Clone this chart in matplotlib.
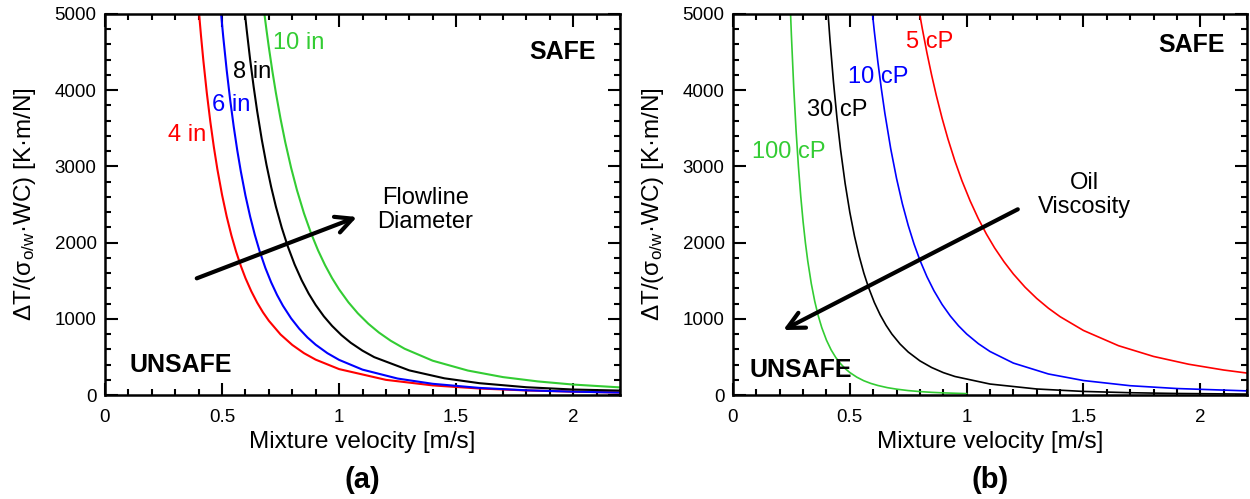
import matplotlib
matplotlib.use("Agg")
import matplotlib.pyplot as plt
from matplotlib.ticker import MultipleLocator, FuncFormatter

plt.rcParams["font.family"] = ["Liberation Sans", "DejaVu Sans"]
plt.rcParams["mathtext.fontset"] = "custom"
plt.rcParams["mathtext.rm"] = "Liberation Sans"
plt.rcParams["mathtext.it"] = "Liberation Sans:italic"

# (a) flowline diameter
v_4in = [0.402, 0.41, 0.42, 0.435, 0.45, 0.465, 0.48, 0.50, 0.52, 0.54, 0.56, 0.58, 0.60, 0.625, 0.65,
         0.675, 0.70, 0.75, 0.80, 0.85, 0.90, 1.0, 1.2, 1.4, 1.6, 1.8, 2.0, 2.2]
y_4in = [5000, 4718, 4394, 3962, 3585, 3254, 2963, 2627, 2340, 2094, 1881, 1696, 1534, 1361, 1212,
         1084, 974, 794, 657, 549, 464, 340, 199, 126, 85, 60, 44, 33]
v_6in = [0.496, 0.505, 0.52, 0.535, 0.55, 0.565, 0.58, 0.60, 0.62, 0.64, 0.66, 0.685, 0.71, 0.735, 0.76,
         0.795, 0.83, 0.865, 0.90, 0.95, 1.0, 1.1, 1.25, 1.4, 1.6, 1.8, 2.0, 2.2]
y_6in = [5000, 4703, 4258, 3866, 3519, 3211, 2938, 2617, 2342, 2102, 1893, 1668, 1477, 1313, 1172,
         1006, 869, 755, 660, 549, 461, 333, 216, 147, 93, 62, 44, 32]
v_8in = [0.598, 0.605, 0.62, 0.635, 0.65, 0.67, 0.69, 0.71, 0.73, 0.755, 0.78, 0.81, 0.84, 0.87, 0.90,
         0.935, 0.97, 1.01, 1.05, 1.1, 1.15, 1.3, 1.45, 1.6, 1.8, 2.0, 2.2]
y_8in = [5000, 4798, 4401, 4045, 3725, 3347, 3018, 2728, 2473, 2196, 1957, 1713, 1507, 1331, 1181,
         1032, 907, 786, 685, 582, 497, 323, 219, 155, 102, 72, 58]
v_10in = [0.681, 0.69, 0.70, 0.715, 0.73, 0.75, 0.77, 0.795, 0.82, 0.85, 0.88, 0.91, 0.94, 0.97, 1.0,
          1.04, 1.08, 1.125, 1.17, 1.22, 1.28, 1.4, 1.55, 1.7, 1.85, 2.0, 2.2]
y_10in = [5000, 4786, 4561, 4249, 3965, 3623, 3318, 2982, 2689, 2384, 2124, 1899, 1704, 1534, 1386,
          1216, 1072, 935, 820, 713, 607, 450, 321, 235, 178, 137, 100]

# (b) oil viscosity
v_5cp = [0.799, 0.81, 0.83, 0.85, 0.87, 0.895, 0.92, 0.95, 0.98, 1.015, 1.05, 1.085, 1.12, 1.16, 1.2,
         1.25, 1.3, 1.35, 1.4, 1.5, 1.65, 1.8, 1.95, 2.1, 2.2]
y_5cp = [5000, 4811, 4491, 4200, 3933, 3631, 3360, 3069, 2811, 2547, 2314, 2110, 1929, 1748, 1588,
         1415, 1267, 1139, 1028, 847, 647, 506, 404, 328, 288]
v_10cp = [0.597, 0.605, 0.62, 0.635, 0.65, 0.675, 0.70, 0.725, 0.75, 0.775, 0.80, 0.83, 0.86, 0.895,
          0.93, 0.965, 1.0, 1.05, 1.1, 1.2, 1.35, 1.5, 1.7, 1.9, 2.2]
y_10cp = [5000, 4769, 4372, 4017, 3697, 3233, 2842, 2508, 2225, 1980, 1769, 1553, 1369, 1188,
          1037, 909, 801, 674, 571, 419, 276, 190, 122, 85, 54]
v_30cp = [0.407, 0.415, 0.43, 0.445, 0.46, 0.48, 0.50, 0.52, 0.54, 0.56, 0.58, 0.605, 0.63, 0.655,
          0.68, 0.715, 0.75, 0.80, 0.85, 0.90, 0.95, 1.1, 1.3, 1.5, 1.7, 1.9, 2.2]
y_30cp = [5000, 4664, 4109, 3635, 3230, 2775, 2398, 2085, 1823, 1600, 1412, 1214, 1051, 915,
          800, 669, 564, 448, 361, 294, 243, 144, 79, 47, 30, 20, 12]
v_100cp = [0.2464, 0.25, 0.26, 0.27, 0.28, 0.29, 0.30, 0.31, 0.32, 0.335, 0.35, 0.365, 0.38, 0.40,
           0.42, 0.44, 0.46, 0.48, 0.50, 0.53, 0.56, 0.59, 0.62, 0.66, 0.70, 0.75, 0.80, 0.85, 0.90,
           0.95, 1.0]
y_100cp = [5000, 4718, 4033, 3468, 2998, 2606, 2275, 1995, 1758, 1463, 1228, 1038, 884, 720,
           592, 492, 412, 347, 295, 234, 187, 152, 125, 97, 77, 58, 45, 35, 28,
           23, 18]

RED, BLUE, BLACK, GREEN = "#ff0000", "#0000ff", "#000000", "#33cc33"

series_a = [
    (v_4in, y_4in, RED, "4 in", 0.269, 3412),
    (v_6in, y_6in, BLUE, "6 in", 0.457, 3806),
    (v_8in, y_8in, BLACK, "8 in", 0.547, 4239),
    (v_10in, y_10in, GREEN, "10 in", 0.718, 4619),
]
series_b = [
    (v_5cp, y_5cp, RED, "5 cP", 0.742, 4636),
    (v_10cp, y_10cp, BLUE, "10 cP", 0.493, 4177),
    (v_30cp, y_30cp, BLACK, "30 cP", 0.315, 3740),
    (v_100cp, y_100cp, GREEN, "100 cP", 0.080, 3193),
]


def fmt(x, pos):
    return f"{x:g}"


def style_axes(ax):
    ax.set_xlim(0, 2.2)
    ax.set_ylim(0, 5000)
    ax.xaxis.set_major_locator(MultipleLocator(0.5))
    ax.xaxis.set_minor_locator(MultipleLocator(0.1))
    ax.yaxis.set_major_locator(MultipleLocator(1000))
    ax.yaxis.set_minor_locator(MultipleLocator(200))
    ax.xaxis.set_major_formatter(FuncFormatter(fmt))
    ax.tick_params(which="both", direction="in", top=True, right=True, width=1.5)
    ax.tick_params(which="major", length=9, labelsize=13.5)
    ax.tick_params(which="minor", length=4.5)
    ax.tick_params(axis="x", which="major", pad=10)
    ax.tick_params(axis="y", which="major", pad=6)
    for s in ax.spines.values():
        s.set_linewidth(1.8)
    ax.set_xlabel("Mixture velocity [m/s]", fontsize=17.5, labelpad=4)
    ax.set_ylabel(r"ΔT/(σ$_{\mathrm{o/w}}$·WC) [K·m/N]", fontsize=17.5)
    ax.yaxis.set_label_coords(-0.13, 0.5)


fig = plt.figure(figsize=(12.5, 4.99), dpi=100)
ax_a = fig.add_axes([0.084, 0.2084, 0.412, 0.7636])
ax_b = fig.add_axes([0.5864, 0.2084, 0.4112, 0.7636])

for v, y, c, lab, lx, ly in series_a:
    ax_a.plot(v, y, color=c, lw=1.5)
    ax_a.text(lx, ly, lab, color=c, fontsize=17, ha="left", va="center")
for v, y, c, lab, lx, ly in series_b:
    ax_b.plot(v, y, color=c, lw=1.2)
    ax_b.text(lx, ly, lab, color=c, fontsize=17, ha="left", va="center")

arrow = dict(arrowstyle="->", lw=3, color="black", mutation_scale=30, shrinkA=0, shrinkB=0)
ax_a.annotate("", xy=(1.076, 2336), xytext=(0.392, 1531), arrowprops=arrow)
ax_b.annotate("", xy=(0.215, 853), xytext=(1.219, 2437), arrowprops=arrow)

ax_a.text(1.368, 2428, "Flowline\nDiameter", fontsize=17, ha="center", va="center", linespacing=1.1)
ax_b.text(1.506, 2625, "Oil\nViscosity", fontsize=17, ha="center", va="center", linespacing=1.1)

for ax, sx, sy, ux, uy in [(ax_a, 1.955, 4505, 0.323, 394), (ax_b, 1.963, 4593, 0.288, 328)]:
    ax.text(sx, sy, "SAFE", fontsize=18, fontweight="bold", ha="center", va="center")
    ax.text(ux, uy, "UNSAFE", fontsize=18, fontweight="bold", ha="center", va="center")

for ax, tag in [(ax_a, "(a)"), (ax_b, "(b)")]:
    style_axes(ax)
    ax.text(0.5, -0.223, tag, transform=ax.transAxes, fontsize=21, fontweight="bold",
            ha="center", va="center")

fig.savefig("out.png", dpi=100)
